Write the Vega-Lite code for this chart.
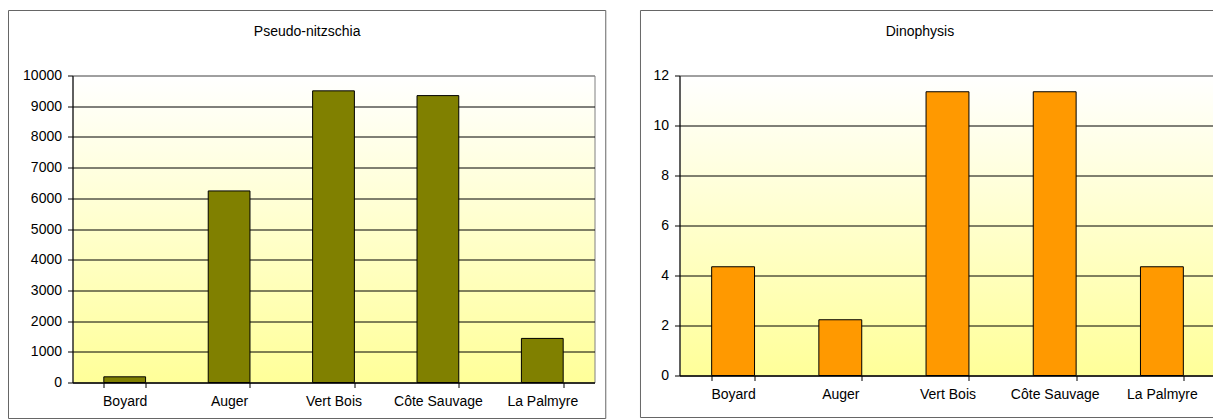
{
  "$schema": "https://vega.github.io/schema/vega-lite/v6.json",
  "padding": {"left": 7.5, "top": 9.5, "right": 0, "bottom": 0},
  "background": "white",
  "spacing": 31,
  "config": {
    "font": "Liberation Sans",
    "view": {
      "fill": {"gradient": "linear", "x1": 0, "y1": 0, "x2": 0, "y2": 1, "stops": [{"offset": 0, "color": "#FFFFFF"}, {"offset": 1, "color": "#FFFF99"}]},
      "stroke": "#808080",
      "strokeWidth": 1
    },
    "axis": {"labelFont": "Liberation Sans", "labelFontSize": 14, "labelColor": "#000000", "domainColor": "#000000", "tickColor": "#000000", "tickSize": 5, "title": null, "labelOverlap": false},
    "title": {"font": "Liberation Sans", "fontSize": 14, "fontWeight": "normal", "color": "#000000", "frame": "bounds", "anchor": "middle", "offset": -28.5}
  },
  "hconcat": [
    {
      "title": {"text": "Pseudo-nitzschia"},
      "width": 522,
      "height": 307,
      "layer": [
        {
          "data": {"values": [
            {"site": "Boyard", "value": 185},
            {"site": "Auger", "value": 6240},
            {"site": "Vert Bois", "value": 9500},
            {"site": "Côte Sauvage", "value": 9345},
            {"site": "La Palmyre", "value": 1436}
          ]},
          "mark": {"type": "bar", "fill": "#808000", "stroke": "#000000", "strokeWidth": 1},
          "encoding": {
            "x": {"field": "site", "type": "nominal", "sort": null, "scale": {"paddingInner": 0.6, "paddingOuter": 0.3},
                  "axis": {"labelAngle": 0, "tickBand": "extent", "labelPadding": 7, "grid": false, "title": null}},
            "y": {"field": "value", "type": "quantitative", "scale": {"domain": [0, 10000], "nice": false},
                  "axis": {"values": [0, 1000, 2000, 3000, 4000, 5000, 6000, 7000, 8000, 9000, 10000], "format": "d", "grid": true,
                           "gridColor": {"condition": {"test": "datum.value >= 10000", "value": "#808080"}, "value": "#000000"},
                           "labelPadding": 6, "title": null}}
          }
        },
        {
          "data": {"values": [{}]},
          "mark": {"type": "rect", "filled": false, "stroke": "#666666", "strokeWidth": 1},
          "encoding": {
            "x": {"datum": -0.1226, "type": "quantitative", "scale": {"domain": [0, 1]}, "axis": null},
            "x2": {"datum": 1.0216},
            "y": {"datum": 12117, "type": "quantitative",
                  "axis": {"values": [0, 1000, 2000, 3000, 4000, 5000, 6000, 7000, 8000, 9000, 10000], "format": "d", "grid": true,
                           "gridColor": {"condition": {"test": "datum.value >= 10000", "value": "#808080"}, "value": "#000000"},
                           "labelPadding": 6, "title": null}},
            "y2": {"datum": -1173}
          }
        }
      ],
      "resolve": {"scale": {"x": "independent"}}
    },
    {
      "title": {"text": "Dinophysis", "dx": -8},
      "width": 536,
      "height": 300,
      "layer": [
        {
          "data": {"values": [
            {"site": "Boyard", "value": 4.35},
            {"site": "Auger", "value": 2.23},
            {"site": "Vert Bois", "value": 11.35},
            {"site": "Côte Sauvage", "value": 11.35},
            {"site": "La Palmyre", "value": 4.35}
          ]},
          "mark": {"type": "bar", "fill": "#FF9900", "stroke": "#000000", "strokeWidth": 1},
          "encoding": {
            "x": {"field": "site", "type": "nominal", "sort": null, "scale": {"paddingInner": 0.6, "paddingOuter": 0.3},
                  "axis": {"labelAngle": 0, "tickBand": "extent", "labelPadding": 7, "grid": false, "title": null}},
            "y": {"field": "value", "type": "quantitative", "scale": {"domain": [0, 12], "nice": false},
                  "axis": {"values": [0, 2, 4, 6, 8, 10, 12], "format": "d", "grid": true,
                           "gridColor": {"condition": {"test": "datum.value >= 12", "value": "#808080"}, "value": "#000000"},
                           "labelPadding": 6, "title": null}}
          }
        },
        {
          "data": {"values": [{}]},
          "mark": {"type": "rect", "filled": false, "stroke": "#666666", "strokeWidth": 1},
          "encoding": {
            "x": {"datum": -0.0728, "type": "quantitative", "scale": {"domain": [0, 1]}, "axis": null},
            "x2": {"datum": 1.0},
            "y": {"datum": 14.6, "type": "quantitative",
                  "axis": {"values": [0, 2, 4, 6, 8, 10, 12], "format": "d", "grid": true,
                           "gridColor": {"condition": {"test": "datum.value >= 12", "value": "#808080"}, "value": "#000000"},
                           "labelPadding": 6, "title": null}},
            "y2": {"datum": -1.68}
          }
        }
      ],
      "resolve": {"scale": {"x": "independent"}}
    }
  ]
}
